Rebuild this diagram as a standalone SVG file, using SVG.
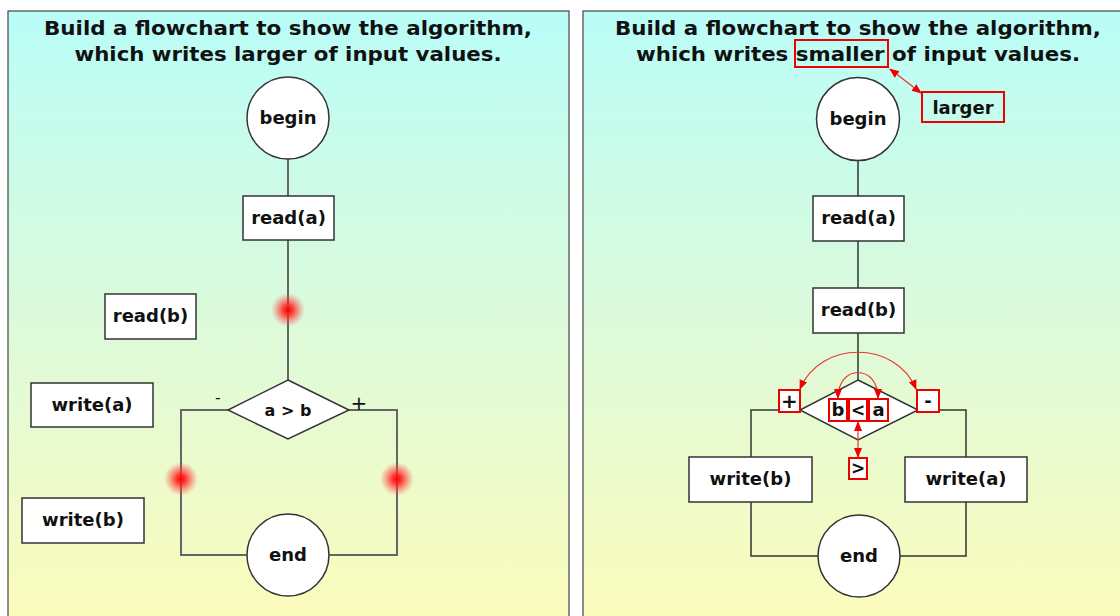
<svg xmlns="http://www.w3.org/2000/svg" width="1120" height="616" viewBox="0 0 1120 616">
<defs>
<linearGradient id="bg" x1="0" y1="0" x2="0" y2="1">
<stop offset="0" stop-color="#b9fdf7"/>
<stop offset="0.5" stop-color="#dcfadb"/>
<stop offset="1" stop-color="#fcfcbb"/>
</linearGradient>
<radialGradient id="glow">
<stop offset="0" stop-color="#ff0000" stop-opacity="1"/>
<stop offset="0.3" stop-color="#ff2020" stop-opacity="0.85"/>
<stop offset="1" stop-color="#ff5050" stop-opacity="0"/>
</radialGradient>
<marker id="ra" viewBox="0 0 10 10" refX="9" refY="5" markerWidth="10" markerHeight="10" markerUnits="userSpaceOnUse" orient="auto-start-reverse">
<path d="M0,1 L10,5 L0,9 z" fill="#ee0000"/>
</marker>
</defs>
<style>
.panel{fill:url(#bg);stroke:#444;stroke-width:1.2}
.node{fill:#fff;stroke:#333;stroke-width:1.5}
.ln{fill:none;stroke:#666;stroke-width:2}
.ln2{fill:none;stroke:#333;stroke-width:1.5}
.t{font-family:"DejaVu Sans",Verdana,sans-serif;font-weight:bold;fill:#111;text-anchor:middle}
.title{font-size:19.5px}
.nt{font-size:18px}
.rb{fill:#fff;stroke:#e00;stroke-width:2}
.rbn{fill:none;stroke:#e00;stroke-width:2}
.ra{fill:none;stroke:#ee3333;stroke-width:1.2;marker-start:url(#ra);marker-end:url(#ra)}
</style>
<rect x="0" y="0" width="1120" height="616" fill="#fff"/>
<rect class="panel" x="8" y="11" width="561" height="615"/>
<rect class="panel" x="583" y="11" width="545" height="615"/>

<!-- LEFT PANEL -->
<text class="t title" x="288" y="35" textLength="488" lengthAdjust="spacingAndGlyphs">Build a flowchart to show the algorithm,</text>
<text class="t title" x="288" y="61" textLength="427" lengthAdjust="spacingAndGlyphs">which writes larger of input values.</text>

<g id="left-connectors">
<line class="ln" x1="288" y1="159" x2="288" y2="196"/>
<line class="ln" x1="288" y1="240" x2="288" y2="380"/>
<polyline class="ln" points="228,410 181,410 181,555 247,555"/>
<polyline class="ln" points="349,410 397,410 397,555 329,555"/>
</g>
<g id="left-glows">
<circle cx="288" cy="310" r="17" fill="url(#glow)"/>
<circle cx="181" cy="479" r="17" fill="url(#glow)"/>
<circle cx="397" cy="479" r="17" fill="url(#glow)"/>
</g>
<g id="L-begin"><circle class="node" cx="288" cy="118" r="41"/><text class="t nt" x="288" y="124">begin</text></g>
<g id="L-read-a"><rect class="node" x="243" y="196" width="91" height="44"/><text class="t nt" x="288.5" y="224">read(a)</text></g>
<g id="L-read-b"><rect class="node" x="105" y="294" width="91" height="45"/><text class="t nt" x="150.5" y="322">read(b)</text></g>
<g id="L-write-a"><rect class="node" x="31" y="383" width="122" height="44"/><text class="t nt" x="92" y="411">write(a)</text></g>
<g id="L-write-b"><rect class="node" x="22" y="498" width="122" height="45"/><text class="t nt" x="83" y="526">write(b)</text></g>
<g id="L-cond"><polygon class="node" points="288,380 349,410 288,439 228,410"/><text class="t" x="288" y="416" font-size="16">a &gt; b</text></g>
<g id="L-end"><circle class="node" cx="288" cy="555" r="41"/><text class="t nt" x="288" y="561">end</text></g>
<text x="218" y="403" font-family="DejaVu Sans,sans-serif" font-size="16" text-anchor="middle" fill="#111">-</text>
<text x="359" y="410" font-family="DejaVu Sans,sans-serif" font-size="20" text-anchor="middle" fill="#111">+</text>

<!-- RIGHT PANEL -->
<text class="t title" x="858" y="35" textLength="486" lengthAdjust="spacingAndGlyphs">Build a flowchart to show the algorithm,</text>
<text class="t title" x="858" y="61" textLength="444" lengthAdjust="spacingAndGlyphs">which writes smaller of input values.</text>
<rect class="rbn" x="795" y="40" width="93" height="27"/>
<g id="R-larger"><rect class="rbn" x="922" y="92" width="82" height="30"/><text class="t nt" x="963" y="114" font-size="19">larger</text></g>

<g id="right-connectors">
<line class="ln2" x1="858" y1="161" x2="858" y2="196"/>
<line class="ln2" x1="858" y1="241" x2="858" y2="288"/>
<line class="ln2" x1="858" y1="333" x2="858" y2="380"/>
<polyline class="ln2" points="800,410 751,410 751,457"/>
<polyline class="ln2" points="918,410 966,410 966,457"/>
<polyline class="ln2" points="751,502 751,556 818,556"/>
<polyline class="ln2" points="966,502 966,556 900,556"/>
</g>
<g id="R-begin"><circle class="node" cx="858" cy="119" r="41.5"/><text class="t nt" x="858" y="125">begin</text></g>
<g id="R-read-a"><rect class="node" x="813" y="196" width="91" height="45"/><text class="t nt" x="858.5" y="224">read(a)</text></g>
<g id="R-read-b"><rect class="node" x="813" y="288" width="91" height="45"/><text class="t nt" x="858.5" y="316">read(b)</text></g>
<g id="R-cond"><polygon class="node" points="858,380 918,410 858,440 800,410"/></g>
<g id="R-write-b"><rect class="node" x="689" y="457" width="123" height="45"/><text class="t nt" x="750.5" y="485">write(b)</text></g>
<g id="R-write-a"><rect class="node" x="905" y="457" width="122" height="45"/><text class="t nt" x="966" y="485">write(a)</text></g>
<g id="R-end"><circle class="node" cx="859" cy="556" r="41"/><text class="t nt" x="859" y="562">end</text></g>

<g id="edit-marks">
<rect class="rb" x="779" y="390" width="21" height="22"/><text class="t" x="789.5" y="408" font-size="20">+</text>
<rect class="rb" x="917" y="390" width="22" height="22"/><text class="t" x="928" y="407" font-size="18">-</text>
<rect class="rb" x="829" y="399" width="18" height="22"/><text class="t" x="838" y="416" font-size="18">b</text>
<rect class="rb" x="849" y="399" width="18" height="22"/><text class="t" x="858" y="416" font-size="17" font-weight="normal">&lt;</text>
<rect class="rb" x="869" y="399" width="19" height="22"/><text class="t" x="878.5" y="416" font-size="18">a</text>
<rect class="rb" x="849" y="458" width="18" height="21"/><text class="t" x="858" y="474" font-size="17" font-weight="normal">&gt;</text>
</g>
<g id="edit-arrows">
<line class="ra" x1="890" y1="69" x2="921" y2="93"/>
<line class="ra" x1="858" y1="422" x2="858" y2="457"/>
<path class="ra" d="M838,398 C838,364 878,364 878,398"/>
<path class="ra" d="M800,389 C820,340 896,340 916,389"/>
</g>
</svg>
